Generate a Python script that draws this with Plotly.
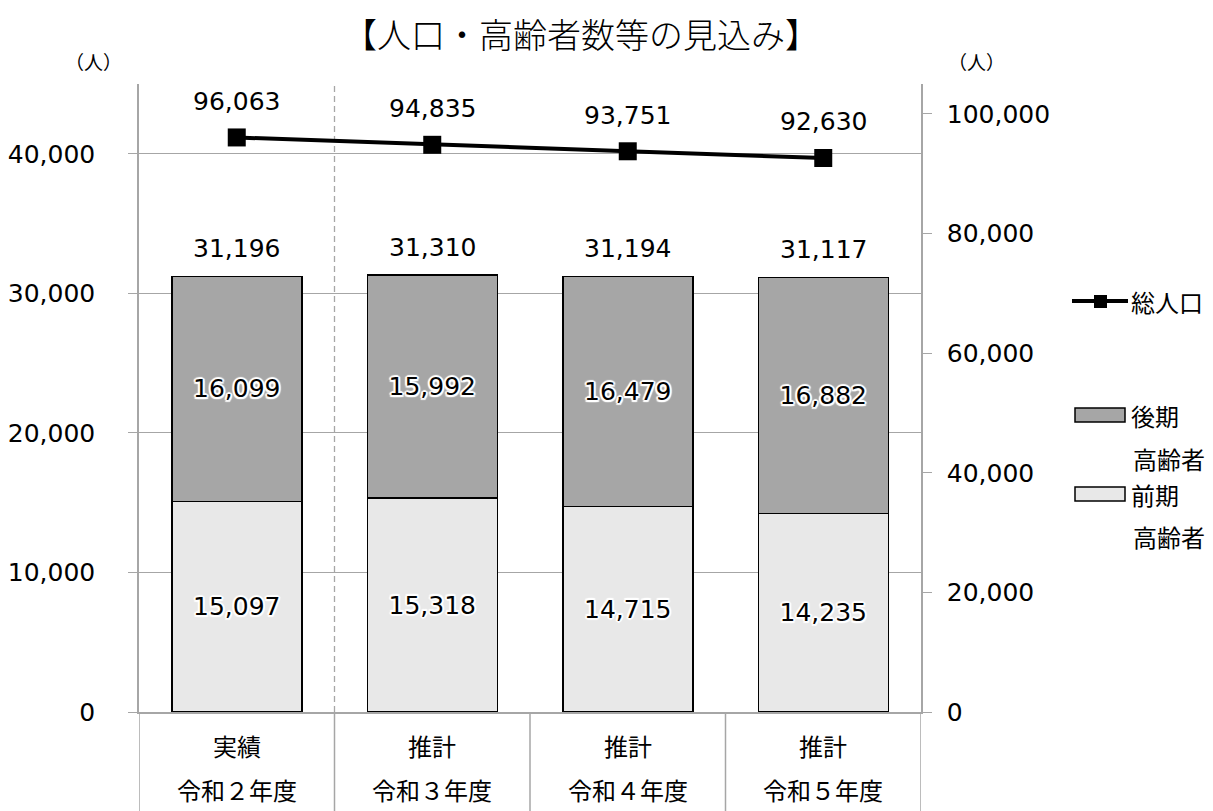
import plotly.graph_objects as go

# 年度区分と数値
categories = ["令和２年度", "令和３年度", "令和４年度", "令和５年度"]
kinds = ["実績", "推計", "推計", "推計"]
zenki = [15097, 15318, 14715, 14235]      # 前期高齢者
kouki = [16099, 15992, 16479, 16882]      # 後期高齢者
total_pop = [96063, 94835, 93751, 92630]  # 総人口
left_ticks = [0, 10000, 20000, 30000, 40000]
right_ticks = [0, 20000, 40000, 60000, 80000, 100000]

FONT = "DejaVu Sans, Noto Sans CJK JP, sans-serif"
JP = "Noto Sans CJK JP, sans-serif"
GRID = "#a6a6a6"
DARK = "#a6a6a6"
LIGHT = "#e8e8e8"

W, H = 1213, 811
L, R, T, B = 139, 292, 84, 99
PW, PH = W - L - R, H - T - B


def px(x):
    return (x - L) / PW


def py(y):
    return (H - B - y) / PH


halo = ("white 2px 0px 1px, white -2px 0px 1px, white 0px 2px 1px, white 0px -2px 1px, "
        "white 1.5px 1.5px 1px, white -1.5px -1.5px 1px, white 1.5px -1.5px 1px, white -1.5px 1.5px 1px")

fig = go.Figure()

fig.add_trace(go.Bar(
    x=categories, y=zenki, name="前期高齢者", width=0.665,
    marker=dict(color=LIGHT, line=dict(color="black", width=1.5)),
    text=[f"{v:,}" for v in zenki], textposition="inside", insidetextanchor="middle",
    textangle=0, constraintext="none",
    textfont=dict(family=FONT, size=25, color="black", shadow=halo),
    showlegend=False, yaxis="y",
))
fig.add_trace(go.Bar(
    x=categories, y=kouki, name="後期高齢者", width=0.665,
    marker=dict(color=DARK, line=dict(color="black", width=1.5)),
    text=[f"{v:,}" for v in kouki], textposition="inside", insidetextanchor="middle",
    textangle=0, constraintext="none",
    textfont=dict(family=FONT, size=25, color="black", shadow=halo),
    showlegend=False, yaxis="y",
))
fig.add_trace(go.Scatter(
    x=categories, y=total_pop, name="総人口", mode="lines+markers",
    line=dict(color="black", width=4),
    marker=dict(symbol="square", size=18, color="black"),
    showlegend=False, yaxis="y2",
))

annotations = []
# 合計ラベル
for c, a, b in zip(categories, zenki, kouki):
    annotations.append(dict(x=c, y=a + b, xref="x", yref="y", text=f"{a + b:,}",
                            showarrow=False, yshift=28, xanchor="center", yanchor="middle",
                            font=dict(family=FONT, size=25, color="black")))
# 総人口ラベル
for c, v in zip(categories, total_pop):
    annotations.append(dict(x=c, y=v, xref="x", yref="y2", text=f"{v:,}",
                            showarrow=False, yshift=36, xanchor="center", yanchor="middle",
                            font=dict(family=FONT, size=25, color="black")))
# 区分・年度ラベル
for c, k in zip(categories, kinds):
    annotations.append(dict(x=c, y=py(745), xref="x", yref="paper", text=k,
                            showarrow=False, xanchor="center", yanchor="middle",
                            font=dict(family=JP, size=24, color="black")))
    annotations.append(dict(x=c, y=py(789), xref="x", yref="paper", text=c,
                            showarrow=False, xanchor="center", yanchor="middle",
                            font=dict(family=JP, size=24, color="black")))

# タイトル・単位
annotations.append(dict(x=px(581), y=py(34), xref="paper", yref="paper",
                        text="【人口・高齢者数等の見込み】", showarrow=False,
                        xanchor="center", yanchor="middle",
                        font=dict(family=JP, size=34, color="black", weight=300)))
annotations.append(dict(x=px(93), y=py(61), xref="paper", yref="paper", text="（人）",
                        showarrow=False, xanchor="center", yanchor="middle",
                        font=dict(family=JP, size=19, color="black")))
annotations.append(dict(x=px(976), y=py(61), xref="paper", yref="paper", text="（人）",
                        showarrow=False, xanchor="center", yanchor="middle",
                        font=dict(family=JP, size=19, color="black")))

# 凡例
legend_items = [
    ("総人口", 1129, 301),
    ("後期", 1129, 415),
    ("高齢者", 1131, 458),
    ("前期", 1129, 494),
    ("高齢者", 1131, 536),
]
for t, x, y in legend_items:
    annotations.append(dict(x=px(x), y=py(y), xref="paper", yref="paper", text=t,
                            xanchor="left", yanchor="middle", showarrow=False,
                            font=dict(family=JP, size=24, color="black")))

shapes = []
# 実績と推計の区切り
shapes.append(dict(type="line", xref="x", yref="paper", x0=0.5, x1=0.5, y0=0, y1=1,
                   line=dict(color=GRID, width=1.3, dash="6px,4px"), layer="below"))
# 下部の区切り線
for xb in [-0.5, 0.5, 1.5, 2.5, 3.5]:
    shapes.append(dict(type="line", xref="x", yref="paper", x0=xb, x1=xb, y0=0, y1=-0.2,
                       line=dict(color=GRID, width=1.5)))
# 凡例記号
shapes.append(dict(type="line", xref="paper", yref="paper", x0=px(1072), x1=px(1128),
                   y0=py(301), y1=py(301), line=dict(color="black", width=4)))
shapes.append(dict(type="rect", xref="paper", yref="paper", x0=px(1094), x1=px(1107),
                   y0=py(295), y1=py(308), fillcolor="black", line=dict(width=0)))
shapes.append(dict(type="rect", xref="paper", yref="paper", x0=px(1075), x1=px(1125),
                   y0=py(408), y1=py(422), fillcolor=DARK, line=dict(color="black", width=1.5)))
shapes.append(dict(type="rect", xref="paper", yref="paper", x0=px(1075), x1=px(1125),
                   y0=py(487), y1=py(501), fillcolor=LIGHT, line=dict(color="black", width=1.5)))

fig.update_layout(
    width=W, height=H,
    margin=dict(l=L, r=R, t=T, b=B, pad=0, autoexpand=False),
    paper_bgcolor="white", plot_bgcolor="white",
    barmode="stack", bargap=0.335,
    annotations=annotations, shapes=shapes,
    showlegend=False,
    xaxis=dict(type="category", showticklabels=False, showgrid=False, automargin=False,
               showline=True, linecolor=GRID, linewidth=1.5, ticks="",
               range=[-0.5, 3.5]),
    yaxis=dict(range=[0, 45000], tickvals=left_ticks, tickformat=",d", automargin=False,
               showgrid=True, gridcolor=GRID, gridwidth=1.3, zeroline=False,
               showline=True, linecolor=GRID, linewidth=1.5,
               ticks="outside", ticklen=9, tickcolor=GRID, tickwidth=1.3,
               ticklabelstandoff=28,
               tickfont=dict(family=FONT, size=25, color="black")),
    yaxis2=dict(range=[0, 105000], tickvals=right_ticks, tickformat=",d", automargin=False,
                overlaying="y", side="right", showgrid=False, zeroline=False,
                showline=True, linecolor=GRID, linewidth=1.5,
                ticks="outside", ticklen=9, tickcolor=GRID, tickwidth=1.3,
                ticklabelstandoff=10,
                tickfont=dict(family=FONT, size=25, color="black")),
)

fig.write_html("out.html")
